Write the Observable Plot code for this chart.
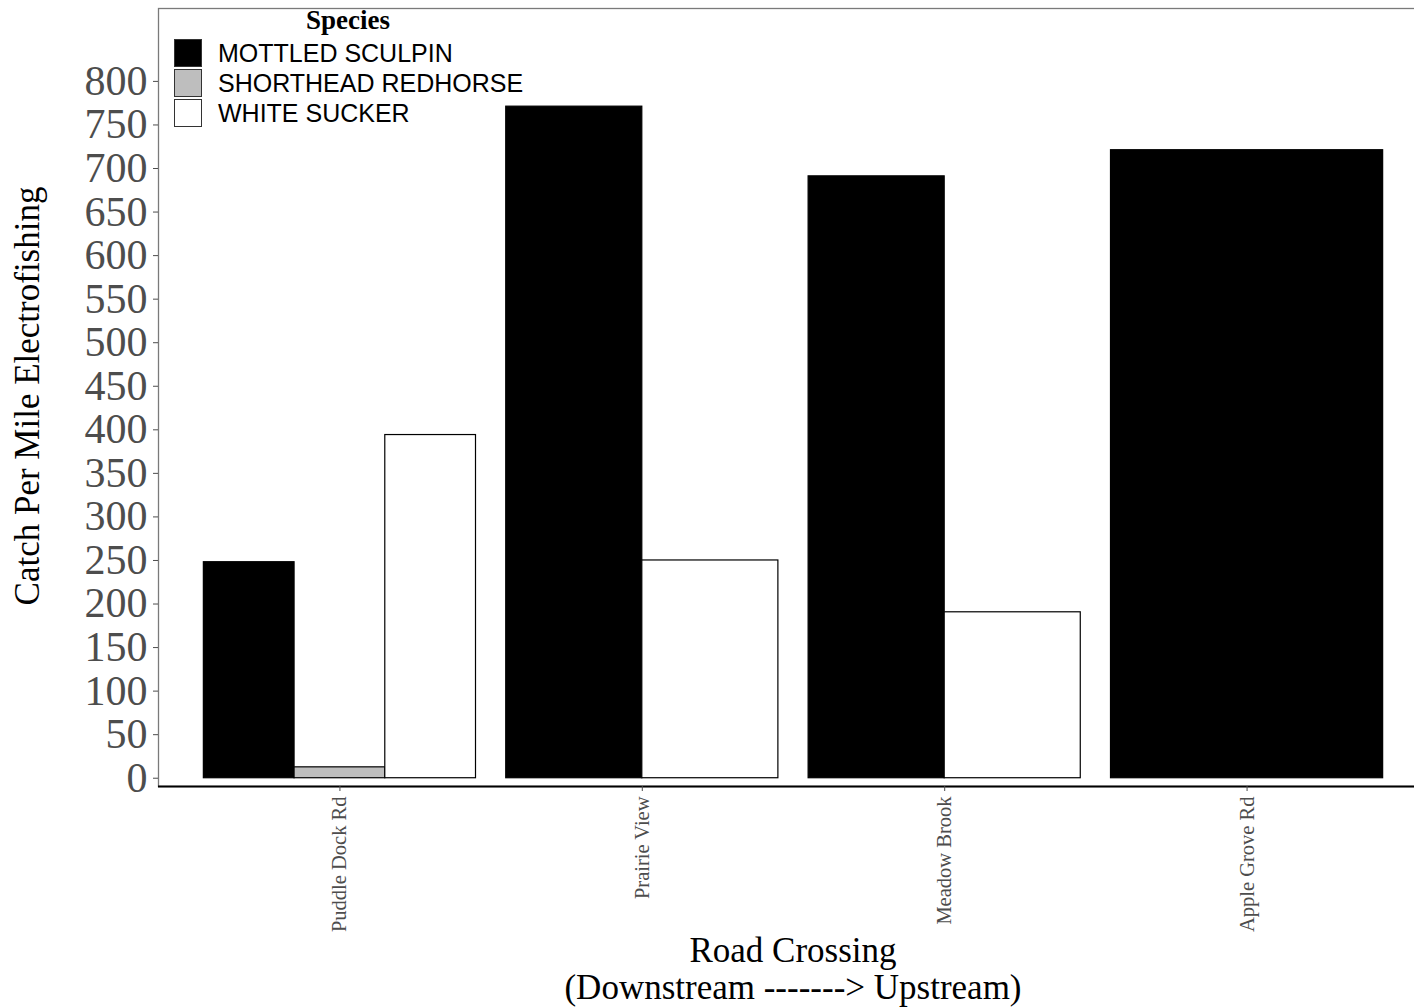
<!DOCTYPE html>
<html>
<head>
<meta charset="utf-8">
<script src="https://cdn.jsdelivr.net/npm/d3@7"></script>
<script src="https://cdn.jsdelivr.net/npm/@observablehq/plot@0.6"></script>
<style>
  html, body { margin: 0; padding: 0; background: white; overflow: hidden; }
  #wrap { position: relative; width: 1414px; height: 1008px; overflow: hidden; background: white; }
  #wrap svg { position: absolute; left: 0; top: 0; }
  .ttl { position: absolute; font-family: "Liberation Serif", "Times New Roman", serif; color: black; white-space: nowrap; }
  #legend { position: absolute; left: 172px; top: 6px; font-family: "Liberation Sans", Arial, sans-serif; }
  #legend .lt { font-family: "Liberation Serif", serif; font-weight: bold; font-size: 27px; text-align: center; line-height: 28px; margin-bottom: 4px; }
  #legend .row { display: flex; align-items: center; height: 30px; }
  #legend .key { width: 28px; height: 28px; border: 1px solid #333; box-sizing: border-box; margin-left: 2px; }
  #legend .lab { font-size: 25px; margin-left: 16px; color: black; }
</style>
</head>
<body>
<div id="wrap"></div>
<script>
// ---- data ----
const crossings = ["Puddle Dock Rd", "Prairie View", "Meadow Brook", "Apple Grove Rd"];
const species = ["MOTTLED SCULPIN", "SHORTHEAD REDHORSE", "WHITE SUCKER"];
const mottledSculpin = [248, 771, 691, 721];
const shortheadRedhorse = [12.5, null, null, null];
const whiteSucker = [394, 250, 190.5, null];
const speciesColors = ["#000000", "#bebebe", "#ffffff"];
const yTicks = d3.range(0, 801, 50);
const yDomain = [-9.5, 883.7];

// ---- dodge (ggplot position_dodge2, total width 0.9) ----
const seriesValues = [mottledSculpin, shortheadRedhorse, whiteSucker];
const rows = [];
crossings.forEach((c, i) => {
  const present = species.map((s, k) => ({ s, v: seriesValues[k][i] })).filter(d => d.v != null);
  const w = 0.9 / present.length;
  present.forEach((d, j) => {
    rows.push({ crossing: c, species: d.s, value: d.v,
      x1: i + 1 - 0.45 + j * w, x2: i + 1 - 0.45 + (j + 1) * w });
  });
});

const W = 1428, H = 1008;
const chart = Plot.plot({
  width: W, height: H,
  marginLeft: 158, marginRight: 0, marginTop: 8, marginBottom: 222,
  style: { maxWidth: "none", background: "white", overflow: "visible" },
  x: { type: "linear", domain: [0.4, 4.6] },
  y: { domain: yDomain },
  color: { domain: species, range: speciesColors },
  marks: [
    Plot.rect(rows, { x1: "x1", x2: "x2", y1: d => 0, y2: "value", fill: "species", stroke: "black", strokeWidth: 1.2 }),
    Plot.frame({ stroke: "#7a7a7a", strokeWidth: 1.3 }),
    Plot.ruleY([yDomain[0]], { stroke: "black", strokeWidth: 2 }),
    Plot.axisY({ ticks: yTicks, tickSize: 5, tickPadding: 6, fontSize: 42, fill: "#4d4d4d", stroke: "#4d4d4d",
      fontFamily: "Liberation Serif", label: null }),
    Plot.axisX({ ticks: [1, 2, 3, 4], tickFormat: d => crossings[d - 1], tickRotate: -90, tickSize: 5, tickPadding: 5,
      fontSize: 20.5, fill: "#4d4d4d", stroke: "#4d4d4d", fontFamily: "Liberation Serif", label: null })
  ]
});
const wrap = document.getElementById("wrap");
wrap.appendChild(chart);

// titles
const yt = document.createElement("div");
yt.className = "ttl";
yt.textContent = "Catch Per Mile Electrofishing";
yt.style.cssText = "font-size:35px;left:28px;top:396px;transform:translate(-50%,-50%) rotate(-90deg);";
wrap.appendChild(yt);

const xt = document.createElement("div");
xt.className = "ttl";
xt.innerHTML = "Road Crossing<br>(Downstream -------&gt; Upstream)";
xt.style.cssText = "font-size:35px;line-height:37px;left:793px;top:932px;transform:translateX(-50%);text-align:center;";
wrap.appendChild(xt);

// legend
const lg = document.createElement("div");
lg.id = "legend";
const lt = document.createElement("div");
lt.className = "lt"; lt.textContent = "Species";
lt.style.width = "352px";
lg.appendChild(lt);
species.forEach((s, k) => {
  const r = document.createElement("div"); r.className = "row";
  const key = document.createElement("div"); key.className = "key"; key.style.background = speciesColors[k];
  const lab = document.createElement("div"); lab.className = "lab"; lab.textContent = s;
  r.appendChild(key); r.appendChild(lab); lg.appendChild(r);
});
wrap.appendChild(lg);
</script>
</body>
</html>
